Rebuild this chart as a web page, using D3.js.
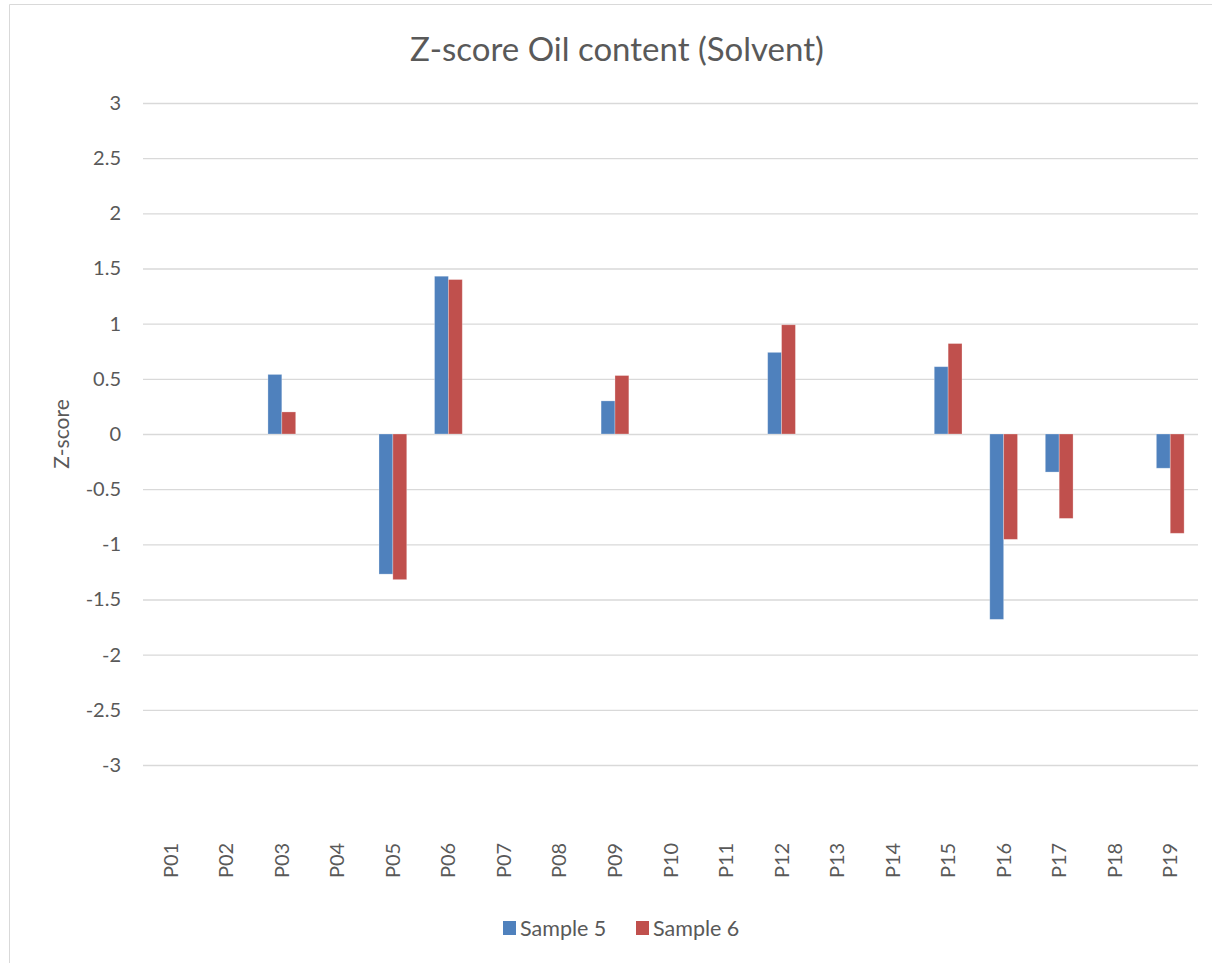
<!DOCTYPE html>
<html>
<head>
<meta charset="utf-8">
<script src="https://cdn.jsdelivr.net/npm/d3@7"></script>
<style>
  body { margin: 0; background: #fff; }
  text { font-family: Lato, "Open Sans", sans-serif; fill: #595959; }
</style>
</head>
<body>
<div id="chart"></div>
<script>
// Z-score chart, two samples per participant

const categories = ["P01", "P02", "P03", "P04", "P05", "P06", "P07", "P08", "P09", "P10",
    "P11", "P12", "P13", "P14", "P15", "P16", "P17", "P18", "P19"];
const seriesNames = ["Sample 5", "Sample 6"];
const sample5 = [null, null, 0.54, null, -1.27, 1.43, null, null, 0.30, null,
    null, 0.74, null, null, 0.61, -1.68, -0.345, null, -0.31];
const sample6 = [null, null, 0.20, null, -1.32, 1.40, null, null, 0.53, null,
    null, 0.99, null, null, 0.82, -0.955, -0.765, null, -0.90];
const yTicks = [-3, -2.5, -2, -1.5, -1, -0.5, 0, 0.5, 1, 1.5, 2, 2.5, 3];

const width = 1212;
const height = 963;
const colors = ["#4f81bd", "#c0504d"];

const svg = d3.select("#chart")
    .append("svg")
    .attr("width", width)
    .attr("height", height);

// chart frame (only left and top edges visible)
svg.append("path")
    .attr("d", `M9.5,${height} V4.5 H${width}`)
    .attr("fill", "none")
    .attr("stroke", "#d9d9d9")
    .attr("stroke-width", 1);

// scales
const x0 = d3.scaleBand()
    .domain(categories)
    .range([143, 1198])
    .paddingInner(0.5)
    .paddingOuter(0.25);

const x1 = d3.scaleBand()
    .domain(seriesNames)
    .range([0, x0.bandwidth()]);

const y = d3.scaleLinear()
    .domain([-3, 3])
    .range([765, 103]);

// title
svg.append("text")
    .attr("x", 617)
    .attr("y", 61)
    .attr("text-anchor", "middle")
    .style("font-size", "33px")
    .text("Z-score Oil content (Solvent)");

// gridlines + y labels
const yAxis = d3.axisLeft(y)
    .tickValues(yTicks)
    .tickSize(-(1198 - 143))
    .tickPadding(22)
    .tickFormat(d => String(d));

const gy = svg.append("g")
    .attr("transform", "translate(143,0)")
    .call(yAxis);
gy.select(".domain").remove();
gy.selectAll(".tick line")
    .attr("stroke", "#d9d9d9")
    .attr("stroke-width", 1.3);
gy.selectAll(".tick text")
    .style("font-size", "20px")
    .style("fill", "#595959");

// y axis title
svg.append("text")
    .attr("transform", `translate(69,${y(0)}) rotate(-90)`)
    .attr("text-anchor", "middle")
    .style("font-size", "21px")
    .text("Z-score");

// bars
const rows = categories.map((c, i) => ({
    cat: c,
    vals: [sample5[i], sample6[i]]
}));

const groups = svg.selectAll(".cat")
    .data(rows)
    .enter()
    .append("g")
    .attr("class", "cat")
    .attr("transform", d => `translate(${x0(d.cat)},0)`);

groups.selectAll("rect")
    .data(d => d.vals.map((v, j) => ({ key: seriesNames[j], v: v, j: j })).filter(e => e.v !== null))
    .enter()
    .append("rect")
    .attr("x", d => x1(d.key))
    .attr("y", d => y(Math.max(0, d.v)))
    .attr("width", x1.bandwidth())
    .attr("height", d => Math.abs(y(d.v) - y(0)))
    .attr("fill", d => colors[d.j])
    .attr("stroke", "#fff")
    .attr("stroke-opacity", 0.35)
    .attr("stroke-width", 0.8);

// x labels (rotated)
const xAxis = d3.axisBottom(x0).tickSize(0).tickPadding(0);
const gx = svg.append("g")
    .attr("transform", "translate(0,828)")
    .call(xAxis);
gx.select(".domain").remove();
gx.selectAll(".tick text")
    .attr("transform", "rotate(-90)")
    .attr("x", -50)
    .attr("y", 0)
    .attr("dy", "0.35em")
    .attr("text-anchor", "start")
    .style("font-size", "20px")
    .style("fill", "#595959");

// legend
const legendX = [503, 636];
const legend = svg.selectAll(".legend")
    .data(seriesNames)
    .enter()
    .append("g")
    .attr("class", "legend")
    .attr("transform", (d, i) => `translate(${legendX[i]},921)`);

legend.append("rect")
    .attr("width", 13)
    .attr("height", 14)
    .attr("fill", (d, i) => colors[i]);

legend.append("text")
    .attr("x", 17)
    .attr("y", 7)
    .attr("dy", "0.36em")
    .style("font-size", "21.5px")
    .text(d => d);
</script>
</body>
</html>
